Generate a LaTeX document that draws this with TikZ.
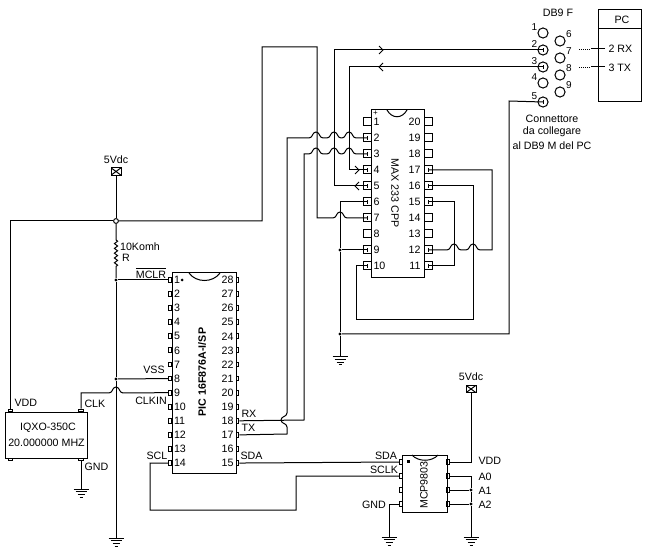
\documentclass[tikz,border=0pt]{standalone}
\usepackage{fontspec}
\setmainfont{Liberation Sans}
\usetikzlibrary{decorations.pathmorphing}

\newcommand{\hoph}[2]{-- (#1-7,#2) .. controls (#1-3,#2) and (#1-4,#2-6) .. (#1,#2-6) .. controls (#1+4,#2-6) and (#1+3,#2) .. (#1+7,#2)}
\newcommand{\hopv}[2]{-- (#1,#2+7) .. controls (#1,#2+3) and (#1-6,#2+4) .. (#1-6,#2) .. controls (#1-6,#2-4) and (#1,#2-3) .. (#1,#2-7)}
\newcommand{\tick}[1]{\draw ([yshift=1.4pt]#1.center) -- ([yshift=-1.4pt]#1.center);}

\tikzset{
  every node/.style={font=\fontsize{8}{10}\selectfont, inner sep=0pt},
  maxpin/.style={draw, rectangle, minimum width=6pt, minimum height=6pt},
  picpin/.style={draw, rectangle, minimum width=2.2pt, minimum height=3.6pt},
  xtalpin/.style={draw, rectangle, minimum width=3.6pt, minimum height=2.2pt},
  dbhole/.style={draw, circle, minimum size=7.6pt},
  dot/.style={circle, fill=black, minimum size=2.6pt},
  opendot/.style={draw, circle, fill=white, minimum size=3.6pt},
  supply/.style={draw, rectangle, minimum width=7.5pt, minimum height=5.6pt,
    path picture={\draw (path picture bounding box.north west) -- (path picture bounding box.south east)
      (path picture bounding box.north east) -- (path picture bounding box.south west);}},
  gnd/.pic={
    \draw (-7.5,0) -- (7.5,0) (-5.5,2.7) -- (5.5,2.7) (-3.5,5.4) -- (3.5,5.4) (-1.5,8) -- (1.5,8);
  },
  small/.style={font=\fontsize{7.5}{9}\selectfont}
}

\begin{document}
\begin{tikzpicture}[x=0.75pt, y=-0.75pt, line width=0.75pt]
  \useasboundingbox (0,0) rectangle (653,559);

  % PIC body
  \draw (172,273) rectangle (236,473);
  \draw (189,273) .. controls (196,283) and (213,283) .. (220,273);
  \fill (182,280) circle (1.5);
  \node[font=\fontsize{8}{10}\selectfont\bfseries, rotate=90] (pictitle) at (202,372) {PIC 16F876A-I/SP};
  \foreach \n in {1,...,14} {
    \node[picpin] (p\n) at (170,{280+14.08*(\n-1)}) {};
    \node[anchor=west] (pt\n) at (173.5,{280+14.08*(\n-1)}) {\n};
  }
  \foreach \n in {15,...,28} {
    \node[picpin] (p\n) at (237.5,{280+14.08*(28-\n)}) {};
    \node[anchor=east] (pt\n) at (234,{280+14.08*(28-\n)}) {\n};
  }

  % MAX body
  \draw (371,110) rectangle (424,278);
  \draw (387,110) .. controls (392,119) and (402,119) .. (407,110);
  \node[font=\fontsize{6}{8}\selectfont] (maxplus) at (375.5,113.5) {+};
  \node[rotate=-90] (maxtitle) at (395,193) {MAX 233 CPP};
  \foreach \n in {1,...,10} {
    \node[maxpin] (m\n) at (367,{122+16*(\n-1)}) {};
    \node[anchor=west] (mt\n) at (373,{122+16*(\n-1)}) {\n};
  }
  \foreach \n in {11,...,20} {
    \node[maxpin] (m\n) at (428,{122+16*(20-\n)}) {};
    \node[anchor=east] (mt\n) at (421,{122+16*(20-\n)}) {\n};
  }

  % Quartz
  \draw (5.5,412) rectangle (87.5,458);
  \node (xtala) at (48,428) {IQXO-350C};
  \node (xtalb) at (46.5,443) {20.000000 MHZ};
  \node[xtalpin] (xvdd) at (10.5,410.5) {};
  \node[xtalpin] (xclk) at (81,410.5) {};
  \node[xtalpin] (xnc) at (10.5,459.5) {};
  \node[xtalpin] (xgnd) at (81,459.5) {};
  \node[anchor=west] (tvdd) at (14,403) {VDD};
  \node[anchor=west] (tclk) at (84,404) {CLK};
  \node[anchor=west] (tgnd) at (84,467) {GND};

  % MCP body
  \draw (402,455) rectangle (447,512);
  \draw (412,455) .. controls (418,462) and (432,462) .. (438,455);
  \fill (406.5,459.5) rectangle (409.5,462.5);
  \node[rotate=90] (mcptitle) at (424,485) {MCP9803};
  \node[picpin] (c1) at (401,462) {};
  \node[picpin] (c2) at (401,476) {};
  \node[picpin] (c3) at (401,490) {};
  \node[picpin] (c4) at (401,504) {};
  \node[picpin] (c8) at (448,462) {};
  \node[picpin] (c7) at (448,476) {};
  \node[picpin] (c6) at (448,490) {};
  \node[picpin] (c5) at (448,504) {};

  % Supply left
  \node (vleft) at (116,160) {5Vdc};
  \node[supply] (s1) at (116,171.5) {};
  \node[opendot] (j0) at (116,221) {};
  \node[dot] (j1) at (116,280) {};
  \node[dot] (j2) at (116,379) {};
  \coordinate (g1) at (116,538);
  \pic at (g1) {gnd};
  \draw (s1) -- (j0);
  \draw (j0) -- (116,240) decorate[decoration={zigzag, segment length=3.6pt, amplitude=1.2pt}] {-- (116,267)} -- (j1);
  \draw (j1) -- (j2) -- (g1);
  \draw (j0) -- (10.5,221) -- (xvdd);
  \draw (j1) -- (p1.west);
  \draw (j2) -- (p8.west);
  \draw (xclk) -- (81,393) \hoph{116}{393} -- (p9.west);
  \node (tres) at (140,247) {10Komh};
  \node (tr) at (126,258) {R};
  \node (tmclr) at (151,273) {$\overline{\mbox{MCLR}}$};
  \node (tvss) at (154,370) {VSS};
  \node (tclkin) at (151,401) {CLKIN};
  \node (tscl) at (157,456) {SCL};

  % Quartz ground
  \coordinate (g2) at (81,489);
  \pic at (g2) {gnd};
  \draw (xgnd) -- (g2);

  % PIC to MAX
  \draw (j0) -- (262,221) -- (262,47) -- (317,47) -- (317,218) \hoph{340}{218} -- (m7.center);
  \draw (p17.east) -- (287,434) \hopv{287}{420} -- (287,138) \hoph{316}{138} \hoph{334}{138} \hoph{349}{138} -- (m2.center);
  \draw (p18.east) -- (304,420) -- (304,154) \hoph{316}{154} \hoph{334}{154} \hoph{349}{154} -- (m3.center);
  \node[anchor=west] (trx) at (241,414) {RX};
  \node[anchor=west] (ttx) at (241,428) {TX};
  \node[anchor=west] (tsda) at (240,456) {SDA};

  % DB9 holes
  \node (dbtitle) at (558,13) {DB9 F};
  \foreach \n/\y in {1/33,2/50,3/67,4/83,5/102} {
    \node[dbhole] (d\n) at (543,\y) {};
    \node[small, anchor=south] (dt\n) at (534.5,{\y-2}) {\n};
  }
  \foreach \n/\y in {6/41,7/58,8/75,9/92} {
    \node[dbhole] (d\n) at (560,\y) {};
    \node[small, anchor=south] (dt\n) at (569,{\y-3}) {\n};
  }
  \node (conna) at (552,119) {Connettore};
  \node (connb) at (552,132) {da collegare};
  \node (connc) at (552,146) {al DB9 M del PC};

  % MAX to DB9
  \draw (m5.center) -- (334,186) -- (334,50) -- (d2.center);
  \draw (m4.center) -- (349,170) -- (349,67) -- (d3.center);
  \draw (379,46) -- (383,50) -- (379,54);
  \draw (383,63) -- (379,67) -- (383,71);
  \draw (355,166) -- (359,170) -- (355,174);
  \draw (359,182) -- (355,186) -- (359,190);

  % MAX ground side
  \node[dot] (j3) at (340,250) {};
  \node[dot] (j4) at (340,334) {};
  \coordinate (g3) at (340,357);
  \pic at (g3) {gnd};
  \draw (m6.center) -- (340,202) -- (j3) -- (j4) -- (g3);
  \draw (j3) -- (m9.center);
  \draw (j4) -- (509,334) -- (509,101) -- (d5.center);

  % MAX right side
  \draw (m12.center) \hoph{454}{250} \hoph{473}{250} -- (492,250) -- (492,170) -- (m17.center);
  \draw (m16.center) -- (473,186) -- (473,320) -- (356,320) -- (356,266) -- (m10.center);
  \draw (m15.center) -- (454,202) -- (454,266) -- (m11.center);
  \foreach \n in {2,3,4,5,6,7,9,10,11,12,15,16,17} {
    \tick{m\n}
  }
  \foreach \n in {2,3,5} {
    \tick{d\n}
  }

  % PC box
  \draw (598,10) rectangle (641,102);
  \draw (598,29) -- (641,29);
  \node (tpc) at (622,20) {PC};
  \coordinate (pcrx) at (605,49);
  \coordinate (pctx) at (605,67);
  \node[anchor=west] (trx2) at (608,49) {2 RX};
  \node[anchor=west] (ttx2) at (608,68) {3 TX};
  \draw (pcrx) -- (591,49);
  \draw (pctx) -- (591,67);
  \draw[densely dotted, line width=0.5pt] (590,49) -- (578,49);
  \draw[densely dotted, line width=0.5pt] (590,67) -- (578,67);

  % PIC to MCP
  \draw (p15.east) -- (c1.west);
  \draw (p14.west) -- (150,463) -- (150,510) -- (296,510) -- (296,476) -- (c2.west);
  \node (tsda2) at (386,456) {SDA};
  \node (tsclk) at (384,470) {SCLK};
  \node (tgnd2) at (374,505) {GND};
  \coordinate (g4) at (389,537);
  \pic at (g4) {gnd};
  \draw (c4.west) -- (389,504) -- (g4);

  % MCP supply
  \node (vright) at (471,377) {5Vdc};
  \node[supply] (s2) at (471,389) {};
  \draw (s2) -- (471,462) -- (c8.east);
  \node[dot] (j5) at (471,490) {};
  \node[dot] (j6) at (471,504) {};
  \coordinate (g5) at (471,537);
  \pic at (g5) {gnd};
  \draw (c7.east) -- (471,476) -- (j5) -- (j6) -- (g5);
  \draw (c6.east) -- (j5);
  \draw (c5.east) -- (j6);
  \node[anchor=west] (tvdd2) at (478,461) {VDD};
  \node[anchor=west] (ta0) at (478,477) {A0};
  \node[anchor=west] (ta1) at (478,491) {A1};
  \node[anchor=west] (ta2) at (478,505) {A2};
\end{tikzpicture}
\end{document}
